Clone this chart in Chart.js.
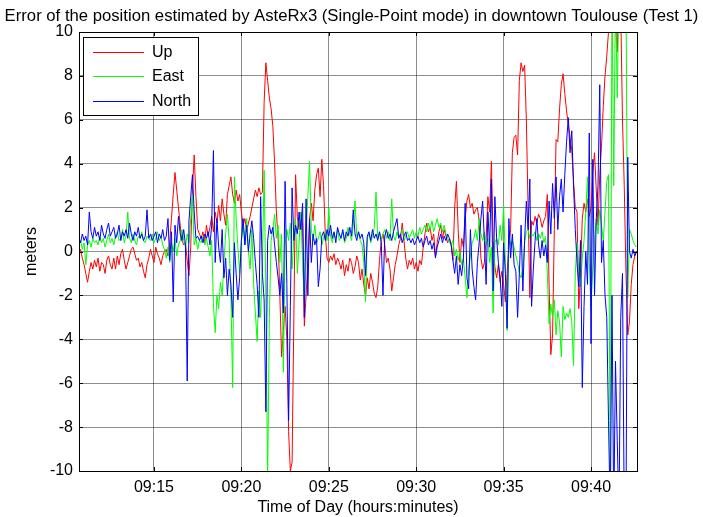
<!DOCTYPE html>
<html>
<head>
<meta charset="utf-8">
<title>AsteRx3 position error - Toulouse</title>
<script src="https://cdn.jsdelivr.net/npm/chart.js@4.4.1/dist/chart.umd.min.js"></script>
<style>
	body { margin: 0; background: #fff; }
	#wrap { width: 703px; height: 517px; }
</style>
</head>
<body>
<div id="wrap"><canvas id="errChart" width="703" height="517"></canvas></div>
<script>
// sampling of the curves: one value every 0.1 min, first one at 09:10:42
const startMinute = 10.7;
const stepMinute = 0.1;

// Up error (m)
const upErr = [
	-0.2, 0.1, -0.3, -0.6, -1.0, -1.4, -0.9, -0.5, -0.8, -0.4,
	-0.7, -0.3, -0.9, -0.5, -0.6, -1.0, -0.4, -0.2, -0.6, -0.8,
	-0.3, -0.8, -0.2, -0.6, -0.1, 0.1, -0.4, -0.8, -0.5, -0.2,
	0.1, 0.2, -0.1, -0.4, -0.3, -0.7, -0.5, -0.9, -1.2, -0.6,
	-0.3, 0.1, -0.2, -0.5, 0.2, -0.1, -0.3, -0.6, -0.2, 0.0,
	0.1, -0.2, 0.4, 1.5, 2.6, 3.6, 2.8, 2.0, 1.2, 0.5,
	0.3, 0.4, -0.4, -1.1, 0.2, 2.8, 4.4, 2.5, 1.0, 0.8,
	0.6, 0.9, 0.4, 1.2, 0.7, 1.1, 1.6, 0.9, 1.8, 1.3,
	2.1, 1.4, 2.4, 1.7, 1.2, 2.6, 3.0, 3.4, 2.6, 2.2,
	2.8, 2.3, 2.6, 1.8, 1.2, 1.5, 0.9, 1.3, 1.6, 2.0,
	2.4, 2.8, 2.5, 2.9, 2.6, 2.7, 6.8, 8.6, 7.8, 7.0,
	6.5, 5.7, 4.0, 1.8, 0.6, -2.0, -4.8, -3.6, -2.5, -4.0,
	-8.2, -10.0, -9.6, -3.0, 3.5, 1.6, 1.0, 1.8, 1.2, -3.4,
	-2.0, -0.5, 1.5, 2.2, 1.4, 2.8, 3.5, 3.8, 2.5, 4.2,
	3.0, 0.8, -0.3, -0.5, -0.2, -0.4, -0.1, -0.6, -0.3, -0.5,
	-0.8, -0.4, -1.1, -0.6, -0.9, -0.3, -0.5, -1.0, -0.7, -0.2,
	-0.5, -1.3, -0.8, -1.5, -2.0, -1.2, -1.7, -1.0, -1.4, -1.9,
	-2.1, -1.6, -0.4, 0.5, 0.8, 0.3, -0.5, -0.3, -0.8, -1.8,
	-1.2, -0.6, -0.2, 0.3, 0.6, 1.3, 0.5, -0.3, -0.8, -0.4,
	-0.6, -0.3, -0.8, -0.5, -0.9, -0.4, -0.6, 0.2, 0.8, 1.3,
	0.9, 1.1, 0.5, 0.8, -0.2, 0.4, 0.9, 1.2, 0.6, 1.0,
	0.7, 0.4, 0.6, 0.3, -0.4, 2.0, 3.2, 1.0, -0.5, 0.6,
	0.2, 1.5, 2.3, 2.6, 2.0, 2.2, 1.7, 1.9, 2.0, 1.4,
	-0.3, -0.8, -0.5, 0.6, 2.5, 1.8, 4.1, 0.5, -0.7, -1.2,
	-0.6, -1.4, -0.9, -1.5, -2.3, -1.0, 0.2, 1.0, 4.5, 5.2,
	5.3, 4.4, 7.8, 8.6, 8.2, 8.5, 6.0, 2.0, -2.1, 1.4,
	1.2, 1.6, 1.3, 1.7, 1.5, 1.1, 1.4, 1.6, 2.6, -1.5,
	-4.7, -3.8, 1.0, 5.1, 5.0, 6.5, 7.6, 8.1, 7.2, 6.4,
	5.8, 5.2, 4.6, 3.2, 2.0, 1.8, -2.6, -1.0, 1.5, 2.2,
	1.8, 2.4, 1.6, 2.0, 3.6, 4.5, 2.8, 1.2, 3.5, 4.8,
	6.6, 8.0, 8.9, 10.0, 12.0, 11.0, 12.0, 10.5, 9.1, 12.0,
	11.0, 6.0, 3.0, -1.0, -3.8, -3.2, -1.5, -0.6, -0.2, 0.0
];

// East error (m)
const eastErr = [
	0.3, 0.5, 0.1, 0.4, -0.6, 0.3, 0.5, 0.2, 0.6, 0.4,
	0.5, 0.3, 0.7, 0.4, 0.6, 0.2, 0.5, 0.8, 0.4, 0.6,
	0.3, 0.7, 0.9, 0.5, 0.6, 1.0, 0.4, 0.7, 1.8, 0.6,
	0.4, 0.8, 0.5, 0.3, 0.7, 0.6, 0.9, 0.5, 0.4, 0.7,
	0.6, 0.5, 0.8, 0.4, 0.6, 0.9, 0.5, 0.7, 0.3, 0.1,
	-0.3, 0.2, -0.5, 0.4, 0.0, 0.6, -0.2, 0.3, 0.5, 1.0,
	0.5, 0.2, 0.8, 0.4, 1.5, 2.6, 0.3, 0.6, 0.1, 0.5,
	0.4, 0.7, 0.3, 0.6, 0.2, -0.2, 0.5, -2.4, -3.7, -2.0,
	-2.6, -1.4, -2.0, -0.5, 0.8, 1.7, 0.5, -2.0, -6.2, 3.4,
	1.5, 0.2, -1.0, 0.5, 1.2, 0.3, 1.5, 0.0, -0.8, 1.0,
	-1.5, -2.8, -4.1, -1.8, -3.0, -0.5, 3.7, -2.0, -10.5, -3.0,
	0.5, 1.0, 1.7, 0.6, 1.2, -0.5, 0.8, -5.5, 0.3, 1.0,
	0.5, 1.3, -0.8, 0.7, 1.5, -1.0, 0.4, 1.8, -0.5, -2.3,
	0.8, 2.5, 4.1, 1.0, 0.5, 1.2, 0.4, 0.6, 0.9, 0.3,
	0.6, 0.9, 0.5, 2.0, 0.7, 0.4, 0.8, 0.6, 1.0, 0.5,
	0.7, 0.9, 0.4, 0.6, 1.1, 0.8, 0.5, 1.2, 2.3, 0.7,
	0.9, 0.5, 0.3, -0.5, -2.3, 0.6, 0.8, 0.4, 0.7, 1.1,
	2.7, 0.6, 0.9, 0.5, 0.8, 1.0, 0.6, 0.9, 0.5, 2.4,
	0.7, 0.5, 0.9, 0.6, 0.8, 1.0, 0.5, 0.7, 0.9, 0.6,
	0.8, 1.0, 0.6, 0.9, 0.7, 1.1, 0.8, 1.0, 1.2, 0.9,
	1.3, 1.0, 1.4, 0.9, 1.2, 1.5, 1.1, 1.3, 0.9, 1.2,
	0.8, 0.6, 0.4, 0.3, 0.5, -0.2, 0.1, -0.4, 0.0, -0.6,
	-0.3, -1.2, -2.1, -0.8, -0.2, 0.4, 0.6, 1.0, 0.5, 1.5,
	0.8, 0.5, 0.9, 0.3, 0.6, -0.5, 0.2, -2.8, 0.4, 0.6,
	0.3, 1.2, 0.5, 2.1, -0.5, -3.6, 0.8, 0.3, 0.5, 0.2,
	-0.2, -0.5, -1.0, -1.2, -0.8, 0.4, 0.9, 1.0, 0.6, 0.8,
	0.7, 0.9, 0.5, 0.8, 0.6, 0.9, 0.4, 0.7, -1.0, -3.3,
	-2.4, -3.0, -2.2, -3.8, -2.7, -3.2, -4.8, -2.5, -3.1, -2.8,
	-3.0, -2.6, -3.2, -5.2, -1.0, 0.4, -0.8, -1.6, -0.3, 0.5,
	1.8, 3.4, -0.5, -2.5, -0.8, 0.5, 1.5, 0.8, 1.9, 1.2,
	0.5, 1.8, 3.2, 3.5, -10.5, 12.0, 3.0, 12.0, 7.0, 12.0,
	12.0, 12.0, 12.0, 12.0, -2.1, 1.0, 0.8, 0.5, 0.3, 0.2
];

// North error (m)
const northErr = [
	0.6, 0.4, 0.8, 0.5, 0.7, 0.3, 1.8, 0.9, 0.6, 1.1,
	0.7, 0.9, 0.5, 1.2, 0.8, 0.6, 1.0, 1.3, 0.7, 0.9,
	1.1, 0.6, 0.8, 1.2, 0.5, 0.9, 0.7, 1.0, 0.6, 1.3,
	0.8, 0.5, 0.9, 0.7, 1.1, 0.6, 0.8, 0.5, 0.7, 1.9,
	0.6, 0.8, 0.5, 0.7, 0.9, 0.4, 0.8, 0.6, 1.0, 0.5,
	0.7, 1.5, -0.4, 0.9, -2.3, 1.2, 0.4, 1.6, 0.8, 0.5,
	1.0, 0.3, -5.9, 1.4, 2.5, 3.5, 1.8, 0.6, 0.7, 0.5,
	0.7, 0.4, 0.8, 0.6, 0.9, 0.3, 1.2, 4.6, -0.5, 1.5,
	0.2, -0.5, 1.0, -1.2, -0.3, -2.0, -0.8, -1.5, -3.0, 0.4,
	-1.0, -2.2, -1.2, 0.5, 1.5, 0.3, 1.2, 0.0, 0.8, 1.4,
	0.6, -0.5, -1.5, -3.0, 2.5, -1.0, -2.2, -7.3, 0.5, 1.2,
	0.8, 1.1, 0.3, -0.5, -1.2, -2.0, -1.0, -2.8, 3.2, -1.5,
	-7.7, -2.5, 2.9, 0.5, 1.2, 0.8, 1.8, 1.0, 2.2, -3.0,
	2.4, -2.0, 1.5, -0.5, 0.8, 0.3, 0.6, -1.6, -0.8, 0.7,
	0.9, 0.5, 1.0, 0.7, 1.2, 0.6, 0.9, 0.4, 1.1, 0.8,
	0.6, 1.0, 0.5, 0.9, 0.7, 1.1, 0.7, 1.9, 0.8, 0.5,
	0.9, 0.6, 0.8, 0.4, -1.1, 0.7, 0.9, 0.5, 1.0, 0.6,
	0.8, 0.5, 0.9, 0.4, -2.0, 0.7, 1.0, 0.6, 0.8, 0.5,
	0.9, 1.2, 1.5, 0.6, 0.8, 0.4, 0.7, 0.9, 0.5, 0.6,
	0.4, 0.6, 0.3, 0.5, 0.7, 0.4, 0.6, 0.2, 0.5, 0.7,
	0.3, 0.5, 0.1, 0.4, -0.3, 0.2, 0.5, 0.8, 0.4, 0.7,
	0.5, 0.8, 0.6, 0.3, -0.4, -1.0, -0.2, -1.5, -0.6, -1.1,
	-0.3, 2.2, -1.2, -1.7, 1.0, -0.8, -1.6, -2.2, -0.5, 0.4,
	1.5, 2.3, 0.5, -1.5, 1.8, 0.2, 3.3, -1.8, 2.5, 0.6,
	-0.5, -1.2, -2.5, 0.4, -1.0, -3.5, 1.5, -0.3, 0.8, -0.6,
	-0.9, -3.0, -1.0, 1.2, -1.8, 0.5, 2.3, 1.0, 3.3, -2.5,
	-0.8, 0.5, 1.5, 0.3, -0.3, 0.5, -0.2, 0.3, -0.5, 2.3,
	0.8, 3.1, 1.5, 3.4, 1.0, 2.5, 3.3, 1.8, 3.5, 5.0,
	6.1, 4.5, 5.5, 3.0, 1.0, -0.5, -1.6, 0.5, -6.2, -2.5,
	0.0, -1.5, 5.4, -4.2, 4.2, -2.0, 1.5, 3.0, 7.6, -0.5,
	0.5, -2.0, -3.0, -7.7, -12.0, -2.0, -12.0, -5.0, -8.6, -12.0,
	-3.0, -1.0, -12.0, -12.0, 4.3, 0.0, -0.3, 0.1, -0.2, 0.0
];

const seriesNames = ['Up', 'East', 'North'];
const seriesColors = ['#ff0000', '#00ff00', '#0000ff'];

// x ticks in minutes after 09:00
const tickMinutes = [15, 20, 25, 30, 35, 40];
const tickLabels = ['09:15', '09:20', '09:25', '09:30', '09:35', '09:40'];

const textFont = { family: '"Liberation Sans", Arial, sans-serif', size: 16 };

// turn a value list into {x, y} points on the time grid
function toPoints(values) {
	return values.map((v, i) => ({ x: startMinute + i * stepMinute, y: v }));
}

// black box around the plot + small inner tick marks (matlab look)
const plotFrame = {
	id: 'plotFrame',
	afterDatasetsDraw(chart) {
		const { ctx, chartArea: a, scales } = chart;
		ctx.save();
		ctx.strokeStyle = '#000';
		ctx.lineWidth = 1;
		ctx.beginPath();
		scales.x.ticks.forEach(t => {
			const px = Math.round(scales.x.getPixelForValue(t.value)) + 0.5;
			ctx.moveTo(px, a.top); ctx.lineTo(px, a.top + 4);
			ctx.moveTo(px, a.bottom); ctx.lineTo(px, a.bottom - 4);
		});
		scales.y.ticks.forEach(t => {
			const py = Math.round(scales.y.getPixelForValue(t.value)) + 0.5;
			ctx.moveTo(a.left, py); ctx.lineTo(a.left + 4, py);
			ctx.moveTo(a.right, py); ctx.lineTo(a.right - 4, py);
		});
		ctx.stroke();
		ctx.strokeRect(Math.round(a.left) + 0.5, Math.round(a.top) + 0.5,
			Math.round(a.right - a.left), Math.round(a.bottom - a.top));
		ctx.restore();
	}
};

// legend in a white box in the upper left corner
const boxLegend = {
	id: 'boxLegend',
	afterDatasetsDraw(chart) {
		const { ctx, chartArea: a } = chart;
		const left = a.left + 4, top = a.top + 5;
		ctx.save();
		ctx.fillStyle = '#fff';
		ctx.fillRect(left, top, 115, 78);
		ctx.strokeStyle = '#000';
		ctx.lineWidth = 1;
		ctx.strokeRect(Math.round(left) + 0.5, Math.round(top) + 0.5, 115, 78);
		ctx.font = textFont.size + 'px ' + textFont.family;
		ctx.textBaseline = 'middle';
		chart.data.datasets.forEach((ds, i) => {
			const y = top + 14.5 + i * 24.5;
			ctx.strokeStyle = ds.borderColor;
			ctx.beginPath();
			ctx.moveTo(left + 10, Math.round(y) + 0.5);
			ctx.lineTo(left + 61, Math.round(y) + 0.5);
			ctx.stroke();
			ctx.fillStyle = '#000';
			ctx.fillText(ds.label, left + 69, y + 1);
		});
		ctx.restore();
	}
};

const ctx = document.getElementById('errChart').getContext('2d');

const errChart = new Chart(ctx, {
	type: 'line',
	data: {
		datasets: [upErr, eastErr, northErr].map((vals, i) => ({
			label: seriesNames[i],
			data: toPoints(vals),
			borderColor: seriesColors[i],
			backgroundColor: seriesColors[i],
			borderWidth: 1,
			pointRadius: 0,
			tension: 0,
			order: 3 - i   // North on top, like the original
		}))
	},
	options: {
		responsive: false,
		animation: false,
		layout: { padding: 0 },
		plugins: {
			legend: { display: false },
			tooltip: { enabled: false },
			title: {
				display: true,
				text: 'Error of the position estimated by AsteRx3 (Single-Point mode) in downtown Toulouse (Test 1)',
				color: '#000',
				font: { family: textFont.family, size: 16.7, weight: 'normal', lineHeight: 1.2 },
				padding: { top: 6, bottom: 6 }
			}
		},
		scales: {
			x: {
				type: 'linear',
				min: 10.71,
				max: 42.63,
				afterBuildTicks(scale) {
					scale.ticks = tickMinutes.map(v => ({ value: v }));
				},
				afterFit(scale) {
					scale.height = 46;
				},
				ticks: {
					autoSkip: false,
					maxRotation: 0,
					padding: 7,
					color: '#000',
					font: textFont,
					callback: (v) => tickLabels[tickMinutes.indexOf(v)]
				},
				grid: { color: 'rgba(0,0,0,0.45)', drawTicks: false },
				border: { color: '#000' },
				title: {
					display: true,
					text: 'Time of Day (hours:minutes)',
					color: '#000',
					font: textFont,
					padding: { top: 0, bottom: 0 }
				}
			},
			y: {
				min: -10,
				max: 10,
				afterFit(scale) {
					scale.width = 79;
				},
				ticks: {
					stepSize: 2,
					padding: 6,
					color: '#000',
					font: textFont
				},
				grid: { color: 'rgba(0,0,0,0.45)', drawTicks: false },
				border: { color: '#000' },
				title: {
					display: true,
					text: 'meters',
					color: '#000',
					font: textFont,
					padding: { top: 22, bottom: 0 }
				}
			},
			// empty right axis, only keeps the 66px margin so the title stays centred on the page
			yRight: {
				position: 'right',
				afterFit(scale) {
					scale.width = 66;
				},
				ticks: { display: false },
				grid: { display: false },
				border: { display: false }
			}
		}
	},
	plugins: [plotFrame, boxLegend]
});
</script>
</body>
</html>
